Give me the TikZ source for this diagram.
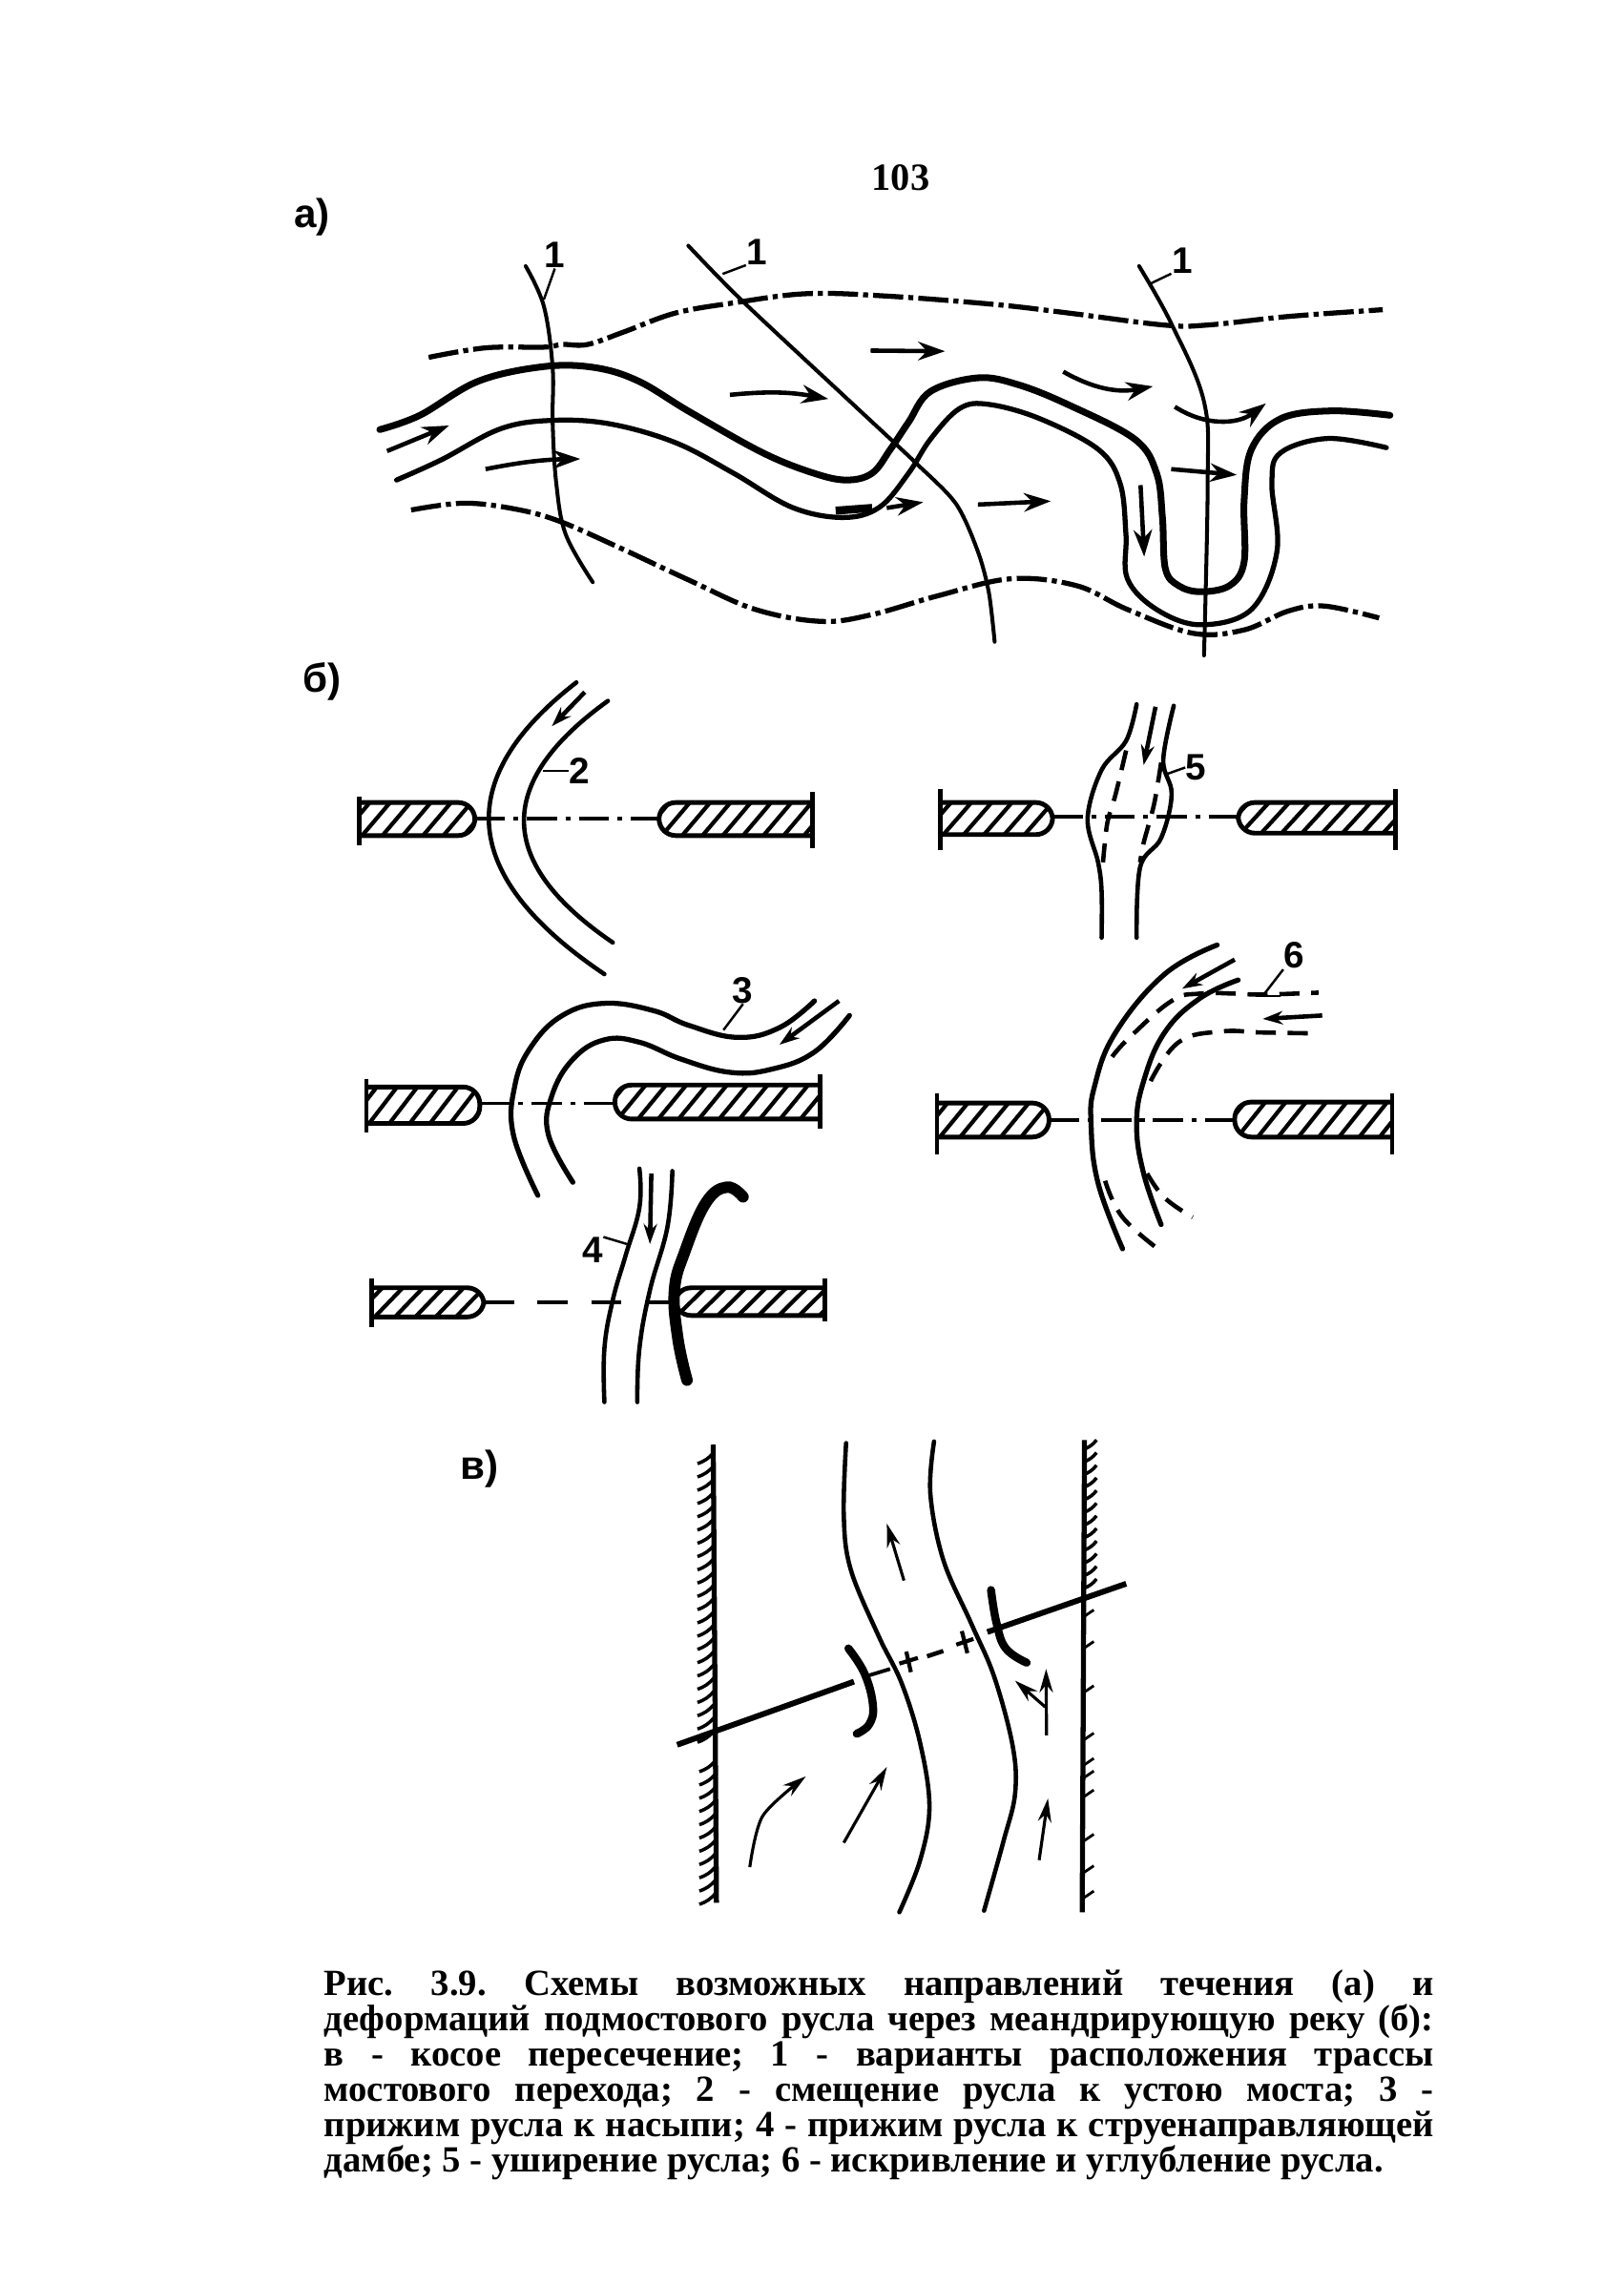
\documentclass[tikz,border=0pt]{standalone}
\usepackage{fontspec}
\setmainfont{Liberation Serif}
\setsansfont{Liberation Sans}
\usepackage{tikz}
\usetikzlibrary{arrows.meta, positioning, calc}

\tikzset{
  route/.style={line width=1.15pt, line cap=round},
  channel/.style={line width=1.5pt, line cap=round},
  thinbank/.style={line width=1.3pt, line cap=round},
  dashdot/.style={line width=1.5pt, dash pattern=on 9pt off 1.5pt on 1.5pt off 1.5pt},
  axisline/.style={line width=.9pt, dash pattern=on 9pt off 2.5pt on 1.5pt off 2.5pt},
  dashbank/.style={line width=1.3pt, dash pattern=on 6pt off 3.5pt},
  flowarrow/.style={-{Stealth[length=8pt,width=5.5pt]}, line width=1.3pt},
  leader/.style={line width=.7pt},
  lbl/.style={font=\sffamily\bfseries\fontsize{11}{12}\selectfont, inner sep=0pt},
  partlbl/.style={font=\sffamily\bfseries\fontsize{12}{13}\selectfont, inner sep=0pt},
  hatchline/.style={line width=1.2pt},
  wall/.style={line width=1.5pt},
}

\newcommand{\abutment}[6]{%
  \pgfmathsetmacro\hlo{min(#1,#2)}
  \pgfmathsetmacro\hhi{max(#1,#2)+30}
  \pgfmathsetmacro\hnxt{\hlo+29}
  \begin{scope}
    \clip (#1,#3) [rounded corners=5pt] -- (#2,#3) -- (#2,#4) [sharp corners] -- (#1,#4) -- cycle;
    \foreach \hx in {\hlo,\hnxt,...,\hhi}
      \draw[hatchline] (\hx-25,#4) -- (\hx+15,#3);
  \end{scope}
  \draw[line width=1.4pt] (#1,#3) [rounded corners=5pt] -- (#2,#3) -- (#2,#4) [sharp corners] -- (#1,#4);
  \draw[line width=1.3pt] (#1,#5) -- (#1,#6);
}

\begin{document}
\begin{tikzpicture}[x=0.01528cm, y=-0.01528cm, >=Stealth]

  \useasboundingbox (0,0) rectangle (1114,1568);

  \node[font=\bfseries\fontsize{11.5}{12}\selectfont, inner sep=0pt] (pagenum) at (618,122) {103};
  \node[partlbl] (parta) at (214,149) {а)};
  \node[partlbl] (partb) at (221,468) {б)};
  \node[partlbl] (partc) at (329,1008) {в)};

  \begin{scope}[shift={(183,98)}, x=0.00764cm, y=-0.00357cm]
    \draw[route] plot[smooth, tension=.6] coordinates {(355,362) (380,480) (392,660) (392,820) (397,1000) (410,1150) (447,1290)};
    \draw[route] plot[smooth, tension=.5] coordinates {(578,302) (650,460) (800,760) (890,940) (945,1060) (975,1200) (990,1320) (998,1465)};
    \draw[route] plot[smooth, tension=.6] coordinates {(1196,362) (1240,530) (1285,760) (1290,1000) (1285,1505)};

    \draw[dashdot] plot[smooth, tension=.6] coordinates {(222,630) (300,602) (380,600) (405,592) (440,592) (490,555) (560,500) (640,470) (740,443) (850,450) (1000,475) (1100,500) (1230,535) (1290,535) (1400,510) (1530,490)};
    \draw[dashdot] plot[smooth, tension=.6] coordinates {(198,1078) (270,1058) (340,1075) (400,1110) (480,1185) (580,1285) (670,1370) (760,1405) (830,1385) (920,1330) (1020,1280) (1110,1300) (1180,1370) (1270,1440) (1340,1430) (1400,1375) (1450,1360) (1525,1395)};

    \draw[channel, line width=2pt] plot[smooth, tension=.6] coordinates {(155,842) (210,800) (290,700) (380,657) (450,660) (510,700) (580,790) (680,910) (750,970) (795,990) (830,970) (855,900) (880,820) (910,730) (975,690) (1030,710) (1100,770) (1190,870) (1220,970) (1228,1100) (1232,1250) (1250,1300) (1280,1318) (1320,1300) (1340,1230) (1340,1050) (1350,900) (1390,810) (1460,787) (1540,800)};
    \draw[channel] plot[smooth, tension=.6] coordinates {(178,990) (240,930) (320,840) (390,815) (470,825) (560,880) (640,970) (720,1070) (790,1100) (840,1070) (880,970) (910,870) (950,780) (990,768) (1060,810) (1140,900) (1170,1000) (1178,1150) (1180,1280) (1220,1370) (1280,1415) (1350,1370) (1385,1200) (1378,1000) (1390,910) (1455,868) (1535,895)};

    \draw[flowarrow] (165,905) -- (250,830);
    \draw[flowarrow] (300,958) to[bend left=5] (430,928);
    \draw[flowarrow] (635,740) to[bend left=8] (770,752);
    \draw[flowarrow] (828,610) -- (930,612);
    \draw[flowarrow] (1092,672) to[bend right=20] (1215,715);
    \draw[flowarrow] (1245,775) to[bend right=35] (1370,765);
    \draw[flowarrow] (1240,958) -- (1330,975);
    \draw[flowarrow] (975,1062) -- (1075,1052);
    \draw[line width=2.4pt] (780,1080) -- (830,1072);
    \draw[flowarrow] (850,1072) -- (900,1055);
    \draw[flowarrow] (1198,1005) -- (1203,1215);

    \node[lbl] (routea) at (395,330) {1};
    \node[lbl] (routeb) at (672,320) {1};
    \node[lbl] (routec) at (1255,345) {1};
    \coordinate (ticka) at (380,460);
    \coordinate (tickb) at (625,385);
    \coordinate (tickc) at (1210,415);
    \draw[leader] (ticka) -- (routea.south);
    \draw[leader] (tickb) -- (routeb.south west);
    \draw[leader] (tickc) -- (routec.south west);
  \end{scope}

  \begin{scope}[shift={(222.5,451.6)}, x=0.007336cm, y=-0.005093cm]
    \abutment{50}{215}{297}{365}{285}{385}
    \abutment{697}{478}{297}{365}{275}{390}
    \abutment{880}{1040}{297}{363}{270}{395}
    \abutment{1530}{1305}{297}{360}{270}{395}
    \abutment{60}{222}{882}{957}{865}{975}
    \abutment{708}{415}{878}{948}{855}{968}
    \abutment{875}{1035}{915}{985}{895}{1020}
    \abutment{1525}{1300}{913}{985}{895}{1020}
    \abutment{68}{228}{1295}{1355}{1275}{1375}
    \abutment{715}{500}{1295}{1352}{1275}{1365}

    \draw[axisline] (215,330) -- (478,330);
    \draw[axisline] (1040,326) -- (1305,326);
    \draw[axisline] (222,915) -- (415,915);
    \draw[axisline] (1035,950) -- (1300,950);
    \draw[line width=1pt, dash pattern=on 9pt off 7pt] (228,1325) -- (500,1325);

    \draw[thinbank] (360,50) .. controls (181,250) and (194,450) .. (400,650);
    \draw[thinbank] (405,88) .. controls (243,256) and (245,421) .. (412,585);
    \draw[flowarrow, -{Stealth[length=6pt,width=4pt]}] (372,70) -- (325,140);
    \node[lbl] (shift) at (365,232) {2};
    \coordinate (tickshift) at (312,232);
    \draw[leader] (tickshift) -- (shift.west);

    \draw[thinbank] plot[smooth, tension=.6] coordinates {(1160,95) (1145,170) (1110,230) (1090,330) (1105,420) (1110,480) (1110,575)};
    \draw[thinbank] plot[smooth, tension=.6] coordinates {(1213,98) (1198,210) (1210,280) (1195,370) (1165,430) (1160,575)};
    \draw[dashbank] plot[smooth] coordinates {(1145,190) (1130,280) (1118,340) (1112,420)};
    \draw[dashbank] plot[smooth] coordinates {(1195,215) (1185,300) (1170,380) (1165,420)};
    \draw[flowarrow, -{Stealth[length=6pt,width=4pt]}] (1187,100) -- (1170,220);
    \node[lbl] (widen) at (1245,225) {5};
    \coordinate (tickwiden) at (1200,240);
    \draw[leader] (tickwiden) -- (widen.west);

    \draw[channel] plot[smooth, tension=.7] coordinates {(1275,590) (1200,650) (1130,770) (1100,880) (1095,960) (1105,1080) (1140,1215)};
    \draw[channel] plot[smooth, tension=.7] coordinates {(1305,662) (1250,700) (1200,770) (1170,870) (1160,960) (1170,1060) (1195,1165)};
    \draw[dashbank] plot[smooth, tension=.7] coordinates {(1125,820) (1150,780) (1210,705) (1250,690) (1300,690) (1340,692) (1420,688)};
    \draw[dashbank] plot[smooth, tension=.7] coordinates {(1180,870) (1220,790) (1280,768) (1340,770) (1420,772)};
    \draw[dashbank] plot[smooth, tension=.7] coordinates {(1115,1075) (1140,1150) (1195,1220)};
    \draw[dashbank] plot[smooth, tension=.7] coordinates {(1175,1060) (1200,1110) (1240,1150)};
    \draw[flowarrow, -{Stealth[length=6pt,width=4pt]}] (1300,620) -- (1225,680);
    \draw[flowarrow, -{Stealth[length=6pt,width=4pt]}] (1425,735) -- (1340,742);
    \node[lbl] (curve) at (1385,612) {6};
    \coordinate (tickcurve) at (1340,695);
    \draw[leader] (tickcurve) -- (curve.south west);
    \draw[leader] (1330,695) -- (1365,695);

    \draw[channel] plot[smooth, tension=.7] coordinates {(700,705) (650,760) (590,780) (520,755) (470,725) (400,710) (340,735) (295,800) (272,880) (270,980) (305,1105)};
    \draw[channel] plot[smooth, tension=.7] coordinates {(750,735) (700,810) (640,845) (580,852) (510,825) (450,790) (400,785) (355,825) (325,900) (320,980) (355,1078)};
    \draw[flowarrow, -{Stealth[length=6pt,width=4pt]}] (735,705) -- (650,795);
    \node[lbl] (press) at (598,683) {3};
    \coordinate (tickpress) at (570,765);
    \draw[leader] (tickpress) -- (press.south);

    \draw[thinbank] plot[smooth, tension=.7] coordinates {(450,1050) (450,1130) (430,1230) (412,1320) (400,1420) (400,1530)};
    \draw[thinbank] plot[smooth, tension=.7] coordinates {(497,1055) (490,1170) (465,1300) (450,1420) (447,1530)};
    \draw[flowarrow, -{Stealth[length=6pt,width=4pt]}] (467,1060) -- (465,1205);
    \draw[line width=3.4pt, line cap=round] plot[smooth, tension=.7] coordinates {(598,1108) (575,1088) (545,1120) (515,1220) (500,1300) (505,1400) (518,1485)};
    \node[lbl] (dam) at (383,1218) {4};
    \coordinate (tickdam) at (432,1205);
    \draw[leader] (tickdam) -- (dam.north east);
  \end{scope}

  \begin{scope}[shift={(301,975.1)}, x=0.004846cm, y=-0.003317cm]
    \draw[wall] (593,75) -- (600,1525);
    \draw[wall] (1395,60) -- (1390,1555);
    \foreach \wy in {100,142,...,1000} \draw[line width=1pt] (594,\wy) to[bend left=15] ++(-35,35);
    \foreach \wy in {1075,1117,...,1500} \draw[line width=1pt] (598,\wy) to[bend left=15] ++(-35,35);
    \foreach \wy in {90,130,...,540} \draw[line width=1pt] (1393,\wy) to[bend right=15] ++(28,-30);
    \foreach \wy in {620,720,860,1010,1090,1130,1190,1330,1430,1510} \draw[line width=.8pt] (1393,\wy) -- ++(22,-22);

    \draw[channel, line width=1.3pt] plot[smooth, tension=.6] coordinates {(880,70) (875,300) (890,470) (950,680) (1000,830) (1040,1020) (1060,1220) (1040,1390) (995,1555)};
    \draw[channel, line width=1.3pt] plot[smooth, tension=.6] coordinates {(1070,65) (1062,230) (1090,440) (1150,640) (1200,810) (1240,1030) (1245,1180) (1220,1330) (1178,1550)};

    \draw[line width=1.7pt] (515,1025) -- (897,825);
    \draw[line width=1.1pt] (930,805) -- (975,785);
    \draw[line width=1.3pt] (1055,745) -- (1090,728);
    \draw[line width=1.7pt] (1185,668) -- (1485,515);
    \draw[line width=1.2pt] (995,768) -- (1035,750) (1010,730) -- (1020,795);
    \draw[line width=1.2pt] (1118,708) -- (1155,690) (1130,665) -- (1142,735);

    \draw[line width=2.4pt, line cap=round] plot[smooth, tension=.7] coordinates {(885,720) (920,800) (938,900) (930,960) (903,990)};
    \draw[line width=2.4pt, line cap=round] plot[smooth, tension=.7] coordinates {(1193,535) (1205,640) (1225,720) (1270,765)};

    \draw[flowarrow, line width=.9pt, -{Stealth[length=7pt,width=4pt]}] (1005,505) -- (968,325);
    \draw[flowarrow, line width=.9pt, -{Stealth[length=7pt,width=4pt]}] (875,1335) -- (968,1095);
    \draw[flowarrow, line width=.9pt, -{Stealth[length=7pt,width=4pt]}] plot[smooth] coordinates {(672,1412) (700,1250) (793,1125)};
    \draw[flowarrow, line width=.9pt, -{Stealth[length=7pt,width=4pt]}] (1313,995) -- (1312,785);
    \draw[flowarrow, line width=.9pt, -{Stealth[length=7pt,width=4pt]}] (1310,905) -- (1245,822);
    \draw[flowarrow, line width=.9pt, -{Stealth[length=7pt,width=4pt]}] (1297,1390) -- (1316,1195);
  \end{scope}

  \node[anchor=north west, inner sep=0pt, text width=11.63cm, align=justify,
        font=\bfseries\fontsize{11}{10.55}\selectfont\frenchspacing] (caption) at (222,1351)
    {Рис. 3.9. Схемы возможных направлений течения (а) и\linebreak
     деформаций подмостового русла через меандрирующую реку (б):\linebreak
     в - косое пересечение; 1 - варианты расположения трассы\linebreak
     мостового перехода; 2 - смещение русла к устою моста; 3 -\linebreak
     прижим русла к насыпи; 4 - прижим русла к струенаправляющей\linebreak
     дамбе; 5 - уширение русла; 6 - искривление и углубление русла.};

\end{tikzpicture}
\end{document}
